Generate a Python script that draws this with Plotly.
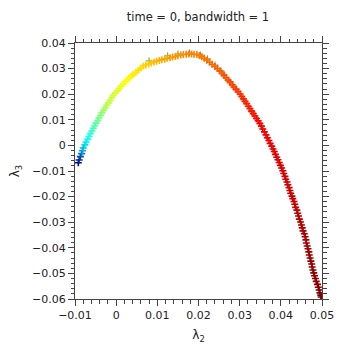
import plotly.graph_objects as go

# lambda_2 / lambda_3 samples (ascent then descent)
lam2 = [
    -0.0092, -0.0090, -0.0087, -0.0084, -0.0082, -0.0080,
    -0.0076, -0.0073, -0.0069, -0.0066, -0.0063, -0.0059, -0.0056,
    -0.0052, -0.0049, -0.0045, -0.0042, -0.0038, -0.0035, -0.0031,
    -0.0027, -0.0023, -0.0019, -0.0015, -0.0011, -0.0007,
    -0.0002, 0.0003, 0.0007, 0.0012, 0.0017,
    0.0022, 0.0027, 0.0032, 0.0037, 0.0042,
    0.0048, 0.0054, 0.0060, 0.0066,
    0.0072, 0.0079, 0.0085, 0.0092, 0.0098,
    0.0105, 0.0111, 0.0118, 0.0124, 0.0131,
    0.0137, 0.0144, 0.0150, 0.0157, 0.0163,
    0.0170, 0.0176, 0.0183, 0.0189, 0.0196,
    0.0202, 0.0208, 0.0214, 0.0220, 0.0227, 0.0233, 0.0240, 0.0246, 0.0252,
    0.0257, 0.0262, 0.0267, 0.0272, 0.0277, 0.0282, 0.0286, 0.0291, 0.0296, 0.0301,
    0.0305, 0.0309, 0.0313, 0.0317, 0.0321, 0.0325, 0.0329, 0.0333, 0.0337, 0.0341, 0.0345, 0.0349,
    0.0353, 0.0356, 0.0360, 0.0364, 0.0367, 0.0371, 0.0374, 0.0378,
    0.0381, 0.0384, 0.0387, 0.0390, 0.0393, 0.0396, 0.0399, 0.0402, 0.0405,
    0.0407, 0.0410, 0.0412, 0.0415, 0.0417, 0.0420, 0.0422, 0.0424, 0.0427, 0.0429, 0.0432, 0.0434,
    0.0436, 0.0439, 0.0441, 0.0443, 0.0445, 0.0448, 0.0450, 0.0452, 0.0454, 0.0457, 0.0459,
    0.0461, 0.0462, 0.0464, 0.0466, 0.0468, 0.0469, 0.0471, 0.0473, 0.0475, 0.0476, 0.0478,
    0.0480, 0.0482, 0.0484, 0.0486, 0.0489, 0.0491, 0.0493, 0.0495,
    0.0497, 0.0498,
]
lam3 = [
    -0.0068, -0.0057, -0.0044, -0.0032, -0.0021, -0.0010,
    0.0002, 0.0013, 0.0024, 0.0035, 0.0046, 0.0056, 0.0067,
    0.0077, 0.0087, 0.0097, 0.0107, 0.0117, 0.0127, 0.0137,
    0.0147, 0.0157, 0.0166, 0.0176, 0.0186, 0.0195,
    0.0204, 0.0213, 0.0222, 0.0231, 0.0240,
    0.0248, 0.0256, 0.0263, 0.0271, 0.0278,
    0.0286, 0.0294, 0.0302, 0.0310,
    0.0314, 0.0318, 0.0322, 0.0326, 0.0329,
    0.0332, 0.0335, 0.0337, 0.0340, 0.0342,
    0.0345, 0.0347, 0.0350, 0.0353, 0.0355,
    0.0356, 0.0357, 0.0357, 0.0356, 0.0355,
    0.0351, 0.0346, 0.0340, 0.0333, 0.0325, 0.0317, 0.0308, 0.0300, 0.0291,
    0.0282, 0.0273, 0.0264, 0.0255, 0.0246, 0.0237, 0.0228, 0.0219, 0.0210, 0.0201,
    0.0191, 0.0182, 0.0172, 0.0163, 0.0153, 0.0144, 0.0134, 0.0124, 0.0115, 0.0105, 0.0096, 0.0086,
    0.0075, 0.0064, 0.0053, 0.0041, 0.0030, 0.0019, 0.0008, -0.0003,
    -0.0014, -0.0024, -0.0035, -0.0046, -0.0056, -0.0067, -0.0078, -0.0088, -0.0099,
    -0.0110, -0.0121, -0.0132, -0.0143, -0.0154, -0.0165, -0.0176, -0.0187, -0.0198, -0.0208, -0.0219, -0.0230,
    -0.0242, -0.0253, -0.0265, -0.0276, -0.0288, -0.0299, -0.0311, -0.0322, -0.0334, -0.0345, -0.0357,
    -0.0369, -0.0381, -0.0393, -0.0404, -0.0416, -0.0428, -0.0440, -0.0452, -0.0463, -0.0475, -0.0487,
    -0.0498, -0.0509, -0.0520, -0.0531, -0.0543, -0.0554, -0.0565, -0.0576,
    -0.0585, -0.0592,
]
# colour value (0..1 on the jet scale) of each point
cval = [
    0.04, 0.14, 0.21, 0.26, 0.30, 0.33,
    0.36, 0.38, 0.40, 0.41, 0.43, 0.44, 0.45,
    0.46, 0.47, 0.48, 0.49, 0.50, 0.51, 0.52,
    0.53, 0.54, 0.55, 0.555, 0.56, 0.565,
    0.57, 0.575, 0.58, 0.585, 0.59,
    0.595, 0.60, 0.605, 0.61, 0.615,
    0.62, 0.62, 0.625, 0.63,
    0.635, 0.64, 0.645, 0.65, 0.655,
    0.66, 0.665, 0.67, 0.67, 0.675,
    0.68, 0.68, 0.685, 0.685, 0.69,
    0.69, 0.695, 0.695, 0.70, 0.70,
    0.70, 0.705, 0.71, 0.71, 0.715, 0.72, 0.72, 0.725, 0.73,
    0.73, 0.735, 0.74, 0.74, 0.745, 0.75, 0.75, 0.755, 0.76, 0.765,
    0.765, 0.77, 0.77, 0.775, 0.775, 0.78, 0.785, 0.785, 0.79, 0.795, 0.795, 0.80,
    0.80, 0.805, 0.81, 0.81, 0.815, 0.82, 0.82, 0.825,
    0.83, 0.83, 0.835, 0.84, 0.84, 0.845, 0.845, 0.85, 0.85,
    0.86, 0.86, 0.865, 0.865, 0.87, 0.87, 0.875, 0.875, 0.88, 0.88, 0.885, 0.885,
    0.89, 0.89, 0.895, 0.90, 0.90, 0.905, 0.91, 0.915, 0.92, 0.92, 0.925,
    0.93, 0.93, 0.935, 0.94, 0.945, 0.95, 0.95, 0.955, 0.96, 0.965, 0.965,
    0.97, 0.97, 0.975, 0.98, 0.985, 0.99, 0.99, 0.995,
    1.0, 1.0,
]
# a few olive-coloured points mixed into the band
olive_x = [0.0080, 0.0125, 0.0150, 0.0178, 0.0205, 0.0222, 0.0240, 0.0255, 0.0262, 0.0276, 0.0292, 0.0310, 0.0330, 0.0352, 0.0368]
olive_y = [0.0330, 0.0350, 0.0357, 0.0361, 0.0353, 0.0338, 0.0314, 0.0290, 0.0276, 0.0250, 0.0220, 0.0178, 0.0130, 0.0077, 0.0030]

x_ticks = [-0.01, 0, 0.01, 0.02, 0.03, 0.04, 0.05]
x_labels = ["\u22120.01", "0", "0.01", "0.02", "0.03", "0.04", "0.05"]
y_ticks = [0.04, 0.03, 0.02, 0.01, 0, -0.01, -0.02, -0.03, -0.04, -0.05, -0.06]
y_labels = ["0.04", "0.03", "0.02", "0.01", "0", "\u22120.01", "\u22120.02", "\u22120.03", "\u22120.04", "\u22120.05", "\u22120.06"]

fig = go.Figure()
fig.add_trace(go.Scatter(
    x=olive_x, y=olive_y, mode="markers", showlegend=False, hoverinfo="skip",
    marker=dict(symbol="cross-thin", size=5, color="rgb(120,150,60)",
                line=dict(color="rgb(120,150,60)", width=1)),
))
fig.add_trace(go.Scatter(
    x=lam2, y=lam3, mode="markers", showlegend=False,
    marker=dict(symbol="cross-thin", size=5, color=cval, colorscale="Jet", cmin=0, cmax=1,
                line=dict(color=cval, colorscale="Jet", cmin=0, cmax=1, width=1.6)),
))

axis_common = dict(
    showgrid=False, zeroline=False, showline=True, linecolor="#444", linewidth=1,
    mirror="ticks", ticks="outside", ticklen=6, tickwidth=1, tickcolor="#444",
    tickfont=dict(family="DejaVu Sans", size=11, color="#222"),
    minor=dict(ticks="outside", ticklen=3.5, tickwidth=1, tickcolor="#444", dtick=0.002, showgrid=False),
)

fig.update_layout(
    width=351, height=352,
    margin=dict(l=75, r=29, t=43, b=49),
    paper_bgcolor="white", plot_bgcolor="white",
    font=dict(family="DejaVu Sans", size=11, color="#222"),
    title=dict(text="time = 0, bandwidth = 1", x=0.564, xanchor="center", y=0.951, yanchor="middle",
               font=dict(family="DejaVu Sans", size=11.5, color="#222")),
    xaxis=dict(range=[-0.01, 0.05], tickvals=x_ticks, ticktext=x_labels,
               title=dict(text="\u03bb<sub>2</sub>", standoff=9, font=dict(size=12)), **axis_common),
    yaxis=dict(range=[-0.06, 0.04], tickvals=y_ticks, ticktext=y_labels,
               title=dict(text="\u03bb<sub>3</sub>", standoff=9, font=dict(size=12)), **axis_common),
)

fig.write_html("out.html")
